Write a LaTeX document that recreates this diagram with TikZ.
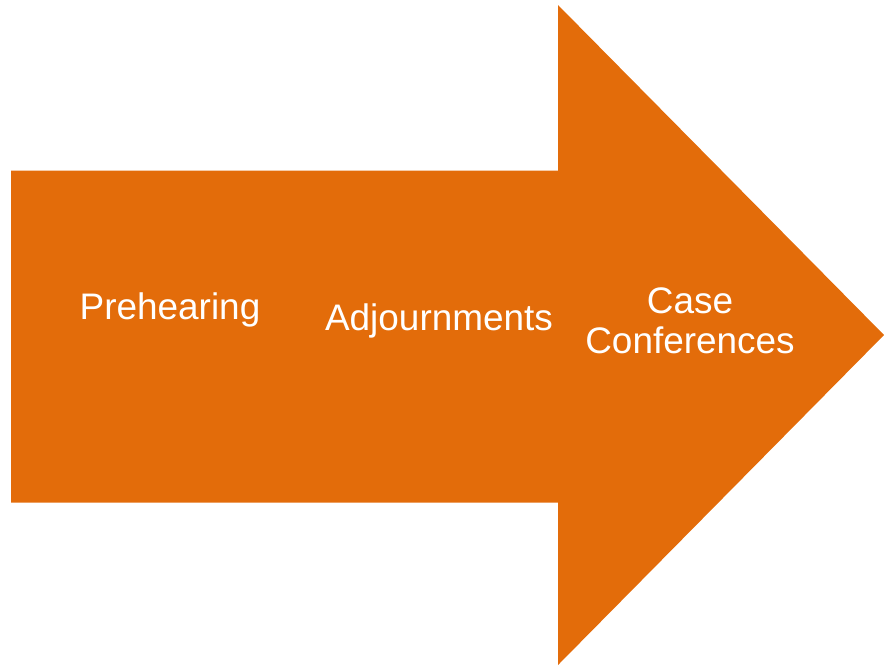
\documentclass[tikz,border=0pt]{standalone}
\usepackage{fontspec}
\setmainfont{Liberation Sans}
\usepackage{xcolor}
\definecolor{arroworange}{HTML}{E36C0A}
\tikzset{
    steplabel/.style={text=white, font=\fontsize{27.7}{30}\selectfont, align=center, inner sep=0pt}
}

\begin{document}
\begin{tikzpicture}[x=0.75pt, y=-0.75pt]
    \useasboundingbox (0,0) rectangle (884,665);
    \fill[arroworange] (11,170.5) -- (558,170.5) -- (558,5) -- (884,335)
        -- (558,665) -- (558,502.5) -- (11,502.5) -- cycle;
    \node[steplabel] (prehearing) at (170,310) {Prehearing};
    \node[steplabel] (adjourn) at (439,321) {Adjournments};
    \node[steplabel] (caseconf) at (690,321) {Case\\Conferences};
\end{tikzpicture}
\end{document}
